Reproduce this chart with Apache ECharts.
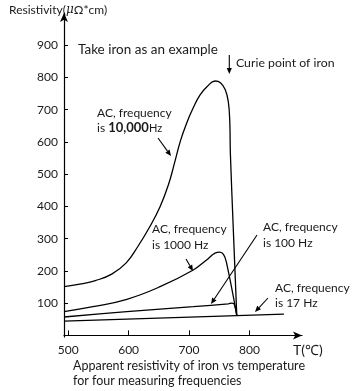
<!DOCTYPE html>
<html><head><meta charset="utf-8">
<script src="https://cdn.jsdelivr.net/npm/echarts@6/dist/echarts.min.js"></script>
<style>html,body{margin:0;padding:0;background:#fff}#c{width:354px;height:391px}</style>
</head><body><div id="c"></div>
<script>
// temperatures (°C) and apparent resistivity (μΩ*cm) per frequency
const t10000 = [493, 519, 545, 572, 596, 615, 635, 652, 666, 676, 686, 696, 706, 718, 730, 743, 752, 760, 765, 767.5, 768.5, 779];
const r10000 = [151, 159, 170, 190, 225, 275, 337, 399, 468, 535, 605, 658, 702, 745, 772, 789, 784, 762, 725, 660, 560, 62];
const t1000 = [493, 541, 597, 652, 707, 729, 743, 751, 757, 762, 779];
const r1000 = [74, 89, 112, 151, 203, 234, 255, 258, 251, 226, 62];
const t100 = [493, 597, 707, 765, 771, 775, 779];
const r100 = [57, 74, 89, 98, 100, 96, 62];
const t17 = [493, 857];
const r17 = [44, 66];
const xTicks = [500, 600, 700, 800];
const yTicks = [100, 200, 300, 400, 500, 600, 700, 800, 900];

const zip = (a, b) => a.map((v, i) => [v, b[i]]);
const FONT = 'Lato';
const TXT = '#1a1a1a';

function arrow(x1, y1, x2, y2) {
  const ang = Math.atan2(y2 - y1, x2 - x1);
  const L = 6, W = 2.6;
  const bx = x2 - L * Math.cos(ang), by = y2 - L * Math.sin(ang);
  const px = -Math.sin(ang) * W, py = Math.cos(ang) * W;
  return [
    { type: 'line', shape: { x1, y1, x2: bx, y2: by }, style: { stroke: '#000', lineWidth: 1.1 } },
    { type: 'polygon', shape: { points: [[x2, y2], [bx + px, by + py], [bx - px, by - py]] }, style: { fill: '#000' } }
  ];
}
function txt(x, y, text, size) {
  return { type: 'text', x, y, style: { text, fill: TXT, font: `${size || 12}px ${FONT}`, textVerticalAlign: 'middle', textAlign: 'left' } };
}

const chart = echarts.init(document.getElementById('c'));
const lineStyle = { color: '#000', width: 1.3 };
const common = { type: 'line', showSymbol: false, lineStyle, smooth: 0.45 };
chart.setOption({
  animation: false,
  grid: { left: 64, right: 52, top: 13, bottom: 54 },
  xAxis: {
    type: 'value', min: 493, max: 887,
    axisLine: { show: true, lineStyle: { color: '#000', width: 1.2 }, symbol: ['none', 'arrow'], symbolSize: [6, 9] },
    axisTick: { show: true, inside: true, length: 5, lineStyle: { color: '#000' }, customValues: xTicks },
    axisLabel: { customValues: xTicks, color: TXT, fontFamily: FONT, fontSize: 12, margin: 7 },
    splitLine: { show: false }
  },
  yAxis: {
    type: 'value', min: -5, max: 1000,
    axisLine: { show: true, lineStyle: { color: '#000', width: 1.2 }, symbol: ['none', 'arrow'], symbolSize: [6, 9] },
    axisTick: { show: true, inside: true, length: 4, lineStyle: { color: '#000' }, customValues: yTicks },
    axisLabel: { customValues: yTicks, color: TXT, fontFamily: FONT, fontSize: 12, margin: 6 },
    splitLine: { show: false }
  },
  series: [
    Object.assign({}, common, { data: zip(t10000, r10000) }),
    Object.assign({}, common, { data: zip(t1000, r1000) }),
    Object.assign({}, common, { data: zip(t100, r100), smooth: 0.3 }),
    Object.assign({}, common, { data: zip(t17, r17), smooth: false })
  ],
  graphic: [
    { type: 'text', x: 9, y: 10, style: { text: 'Resistivity({i|μ}Ω*cm)', fill: TXT, font: `12px ${FONT}`, textVerticalAlign: 'middle', rich: { i: { fontStyle: 'italic', fontSize: 12, fontFamily: 'DejaVu Serif', fill: TXT } } } },
    txt(78, 50, 'Take iron as an example', 13.5),
    txt(236, 63, 'Curie point of iron', 12.3),
    ...arrow(229.3, 55, 229.3, 74),
    txt(97, 113, 'AC, frequency'),
    { type: 'text', x: 97, y: 128, style: { text: 'is {b|10,000}{s|Hz}', fill: TXT, font: `12px ${FONT}`, textVerticalAlign: 'middle', rich: { b: { fontWeight: 'bold', fontSize: 13, fontFamily: FONT, fill: TXT }, s: { fontSize: 11, fontFamily: FONT, fill: TXT } } } },
    ...arrow(158, 138, 171, 156),
    txt(152, 229, 'AC, frequency'),
    txt(152, 245, 'is 1000 Hz'),
    ...arrow(186, 259, 193, 271),
    txt(263, 227, 'AC, frequency'),
    txt(263, 243, 'is 100 Hz'),
    ...arrow(257, 235, 211, 304),
    txt(275, 288, 'AC, frequency'),
    txt(275, 303, 'is 17 Hz'),
    ...arrow(268, 298, 255, 312),
    txt(293, 350, 'T(℃)', 14),
    txt(73, 366, 'Apparent resistivity of iron vs temperature', 12.5),
    txt(73, 381, 'for four measuring frequencies', 12.5)
  ]
});
</script></body></html>
